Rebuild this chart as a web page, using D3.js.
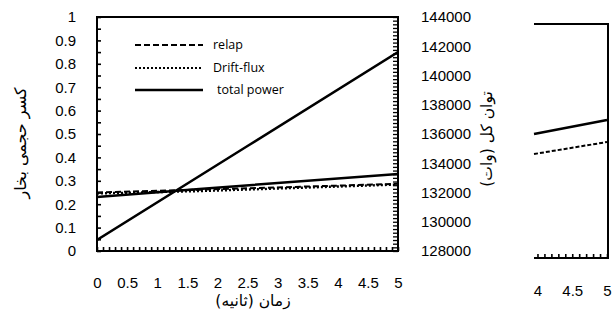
<!DOCTYPE html>
<html>
<head>
<meta charset="utf-8">
<script src="https://cdn.jsdelivr.net/npm/d3@7"></script>
<style>
  body { margin: 0; background: #fff; }
  svg text { font-family: "Liberation Sans", "DejaVu Sans", sans-serif; fill: #000; }
  .fa { font-family: "DejaVu Sans", sans-serif; }
  .leg { font-family: "Open Sans", sans-serif; }
  .domain { display: none; }
</style>
</head>
<body>
<div id="root"></div>
<script>
// tick labels
var timeTicks = [0, 0.5, 1, 1.5, 2, 2.5, 3, 3.5, 4, 4.5, 5];
var voidTicks = [0, 0.1, 0.2, 0.3, 0.4, 0.5, 0.6, 0.7, 0.8, 0.9, 1];
var powerTicks = [128000, 130000, 132000, 134000, 136000, 138000, 140000, 142000, 144000];
var fragTicks = [4, 4.5, 5];

// left chart series (void fraction, left axis)
var relapTime = [0, 1.7, 5];
var relapVoid = [0.250, 0.262, 0.287];
var driftTime = [0, 1.7, 5];
var driftVoid = [0.246, 0.256, 0.284];
var solidTime = [0, 1.7, 5];
var solidVoid = [0.231, 0.265, 0.329];
// total power (right axis)
var powerTime = [0, 2.5, 5];
var totalPower = [128750, 135180, 141600];

// right fragment chart series
var fragTime = [3.95, 5];
var fragSolid = [136480, 137440];
var fragDashed = [135110, 135930];

var legendNames = ['relap', 'Drift-flux', 'total power'];

var w = 614, h = 316;
var svg = d3.select('#root').append('svg').attr('width', w).attr('height', h);

// plot box (window.top is reserved, so no "top" here)
var pL = 97, pR = 398, pT = 17, pB = 251;

var x = d3.scaleLinear().domain([0, 5]).range([pL, pR]);
var yVoid = d3.scaleLinear().domain([0, 1]).range([pB, pT]);
var yPow = d3.scaleLinear().domain([128000, 144000]).range([pB, pT]);

// minor inner ticks
svg.append('g').attr('transform', 'translate(' + pL + ',0)')
  .call(d3.axisRight(yVoid).tickValues(d3.range(0, 1.001, 0.05)).tickSize(4).tickFormat(''))
  .selectAll('line').attr('stroke-width', 1.6);
svg.append('g').attr('transform', 'translate(0,' + pB + ')')
  .call(d3.axisTop(x).tickValues(d3.range(0, 5.001, 0.1)).tickSize(4).tickFormat(''))
  .selectAll('line').attr('stroke-width', 1.6);
svg.append('g').attr('transform', 'translate(' + pR + ',0)')
  .call(d3.axisLeft(yPow).tickValues(d3.range(128000, 144001, 250)).tickSize(5).tickFormat(''))
  .selectAll('line').attr('stroke-width', 1.3);

// tick labels
svg.append('g').attr('transform', 'translate(' + pL + ',0)')
  .call(d3.axisLeft(yVoid).tickValues(voidTicks).tickSize(0).tickPadding(21).tickFormat(d3.format('')))
  .selectAll('text').style('font-size', '15px').style('font-family', '"Liberation Sans"');
svg.append('g').attr('transform', 'translate(0,' + pB + ')')
  .call(d3.axisBottom(x).tickValues(timeTicks).tickSize(0).tickPadding(26).tickFormat(d3.format('')))
  .selectAll('text').style('font-size', '15px').style('font-family', '"Liberation Sans"');
svg.append('g').attr('transform', 'translate(' + pR + ',0)')
  .call(d3.axisRight(yPow).tickValues(powerTicks).tickSize(0).tickPadding(23).tickFormat(d3.format('d')))
  .selectAll('text').style('font-size', '15px').style('font-family', '"Liberation Sans"');

// clip
svg.append('clipPath').attr('id', 'clipL').append('rect')
  .attr('x', pL).attr('y', pT).attr('width', pR - pL).attr('height', pB - pT);

function pts(xs, ys) { return xs.map(function(d, i) { return [d, ys[i]]; }); }

var lineVoid = d3.line().x(function(d) { return x(d[0]); }).y(function(d) { return yVoid(d[1]); });
var linePow = d3.line().x(function(d) { return x(d[0]); }).y(function(d) { return yPow(d[1]); });

var g = svg.append('g').attr('clip-path', 'url(#clipL)');
g.append('path').attr('d', lineVoid(pts(solidTime, solidVoid)))
  .attr('fill', 'none').attr('stroke', '#000').attr('stroke-width', 2.5);
g.append('path').attr('d', lineVoid(pts(relapTime, relapVoid)))
  .attr('fill', 'none').attr('stroke', '#000').attr('stroke-width', 2).attr('stroke-dasharray', '6,3');
g.append('path').attr('d', lineVoid(pts(driftTime, driftVoid)))
  .attr('fill', 'none').attr('stroke', '#000').attr('stroke-width', 2.4).attr('stroke-dasharray', '2,2');
g.append('path').attr('d', linePow(pts(powerTime, totalPower)))
  .attr('fill', 'none').attr('stroke', '#000').attr('stroke-width', 2.5);

// frame
svg.append('rect').attr('x', pL).attr('y', pT).attr('width', pR - pL).attr('height', pB - pT)
  .attr('fill', 'none').attr('stroke', '#000').attr('stroke-width', 2);

// legend
var legY = [45, 68, 90];
var legDash = ['6,3', '2,2', null];
var leg = svg.append('g');
legendNames.forEach(function(name, i) {
  leg.append('line').attr('x1', 135).attr('x2', 203).attr('y1', legY[i]).attr('y2', legY[i])
    .attr('stroke', '#000').attr('stroke-width', i === 2 ? 2.5 : 2)
    .attr('stroke-dasharray', legDash[i]);
  leg.append('text').attr('class', 'leg').attr('x', i === 2 ? 217 : 213).attr('y', legY[i] + 4)
    .style('font-size', '12.5px').text(name);
});

// axis titles
svg.append('text').attr('class', 'fa')
  .attr('transform', 'translate(26,143) rotate(-90)')
  .attr('text-anchor', 'middle').style('font-size', '16px').text('کسر حجمی بخار');
svg.append('text').attr('class', 'fa')
  .attr('transform', 'translate(492,139) rotate(-90)')
  .attr('text-anchor', 'middle').style('font-size', '15.5px').text('توان کل (وات)');
svg.append('text').attr('class', 'fa')
  .attr('x', 253).attr('y', 306)
  .attr('text-anchor', 'middle').style('font-size', '15.5px').text('زمان (ثانیه)');

// right fragment chart
var fL = 534, fR = 608, fT = 24, fB = 258;
var fx = d3.scaleLinear().domain([3.95, 5]).range([fL, 607]);
var fy = d3.scaleLinear().domain([128000, 144000]).range([fB, fT]);
var fLine = d3.line().x(function(d) { return fx(d[0]); }).y(function(d) { return fy(d[1]); });

svg.append('g').attr('transform', 'translate(0,' + fB + ')')
  .call(d3.axisTop(fx).tickValues(d3.range(4, 5.001, 0.1)).tickSize(4).tickFormat(''))
  .selectAll('line').attr('stroke-width', 1.6);
svg.append('g').attr('transform', 'translate(0,' + fB + ')')
  .call(d3.axisBottom(fx).tickValues(fragTicks).tickSize(0).tickPadding(27).tickFormat(d3.format('')))
  .selectAll('text').style('font-size', '15px').style('font-family', '"Liberation Sans"');

svg.append('path').attr('d', fLine(pts(fragTime, fragSolid)))
  .attr('fill', 'none').attr('stroke', '#000').attr('stroke-width', 2.5);
svg.append('path').attr('d', fLine(pts(fragTime, fragDashed)))
  .attr('fill', 'none').attr('stroke', '#000').attr('stroke-width', 2).attr('stroke-dasharray', '4,2');

svg.append('path')
  .attr('d', 'M' + fL + ',' + fT + 'H' + fR + 'V' + fB + 'H' + fL)
  .attr('fill', 'none').attr('stroke', '#000').attr('stroke-width', 2);
</script>
</body>
</html>
